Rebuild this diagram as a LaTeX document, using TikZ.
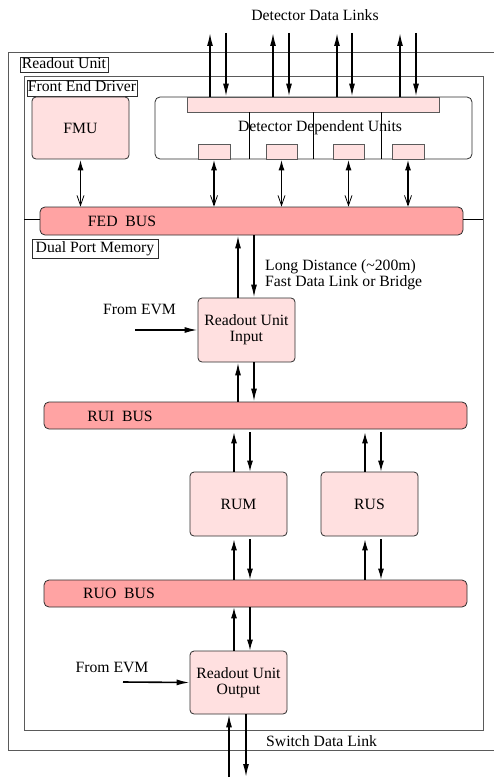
\documentclass[tikz,border=0pt]{standalone}
\usepackage{fontspec}
\setmainfont{Liberation Serif}
\usetikzlibrary{arrows.meta}
\definecolor{lpink}{RGB}{255,224,224}
\definecolor{bpink}{RGB}{255,163,163}
\definecolor{edge}{RGB}{45,45,45}
\definecolor{frame}{RGB}{90,90,90}
\begin{document}
\begin{tikzpicture}[x=1pt,y=-1pt,
  font=\fontsize{15.7}{16}\selectfont,
  unitbox/.style={draw=edge, fill=lpink, rounded corners=4pt, line width=0.8pt, inner sep=0pt, align=center},
  plainbox/.style={draw=edge, fill=white, rounded corners=5pt, line width=0.8pt, inner sep=0pt},
  smallbox/.style={draw=frame, fill=lpink, line width=0.8pt, inner sep=0pt},
  busbox/.style={draw=edge, fill=bpink, rounded corners=5pt, line width=0.8pt, inner sep=0pt},
  lbl/.style={draw=edge, fill=white, line width=0.6pt, inner sep=0pt, text height=11pt, text depth=3.5pt},
  framebox/.style={draw=frame, line width=0.9pt},
  dlink/.style={line width=1.6pt, -{Latex[length=13pt,width=6pt]}},
  link/.style={line width=1.3pt, -{Latex[length=11pt,width=6pt]}},
  dbl/.style={line width=1.6pt, {Latex[length=11pt,width=6pt]}-{Straight Barb[length=10pt,width=7pt,line width=0.8pt]}},
  txt/.style={inner sep=0pt}
]
\useasboundingbox (0,0) rectangle (493,778);

% frames
\draw[framebox] (500,52) -- (8,52) -- (8,750) -- (500,750);
\draw[framebox] (24,76) rectangle (483,730);

\node[lbl, minimum width=88pt, minimum height=15pt] (rulbl) at (64,64.5) {Readout Unit};
\node[lbl, minimum width=110pt, minimum height=16pt] (fedlbl) at (82,88) {Front End Driver};

% title
\node[txt] (title) at (315,15) {Detector Data Links};

% FED bus and separator line
\node[busbox, minimum width=423pt, minimum height=28pt] (fed) at (251.5,221) {};
\coordinate (hl) at (24,219);
\coordinate (hr) at (483,219);
\draw[line width=0.8pt] (hl) -- (hl -| fed.west);
\draw[line width=0.8pt] (hr) -- (hr -| fed.east);
\node[txt] (fedtxt) at (122,221) {FED\ \ BUS};

\node[lbl, minimum width=126pt, minimum height=19pt] (dpmlbl) at (95,248.5) {Dual Port Memory};

% FMU and detector dependent units
\node[unitbox, minimum width=97pt, minimum height=62pt] (fmu) at (80.5,128) {FMU};
\node[plainbox, minimum width=317pt, minimum height=62pt] (ddu) at (313.5,128) {};
\node[smallbox, minimum width=252pt, minimum height=15pt] (bar) at (313,104.5) {};
\foreach \x/\n in {249/1,313/2,381/3}{
  \coordinate (dv\n) at (\x,159);
  \draw[line width=0.7pt] (dv\n) -- (dv\n |- bar.south);
}
\node[txt] (ddutxt) at (320,128) {Detector Dependent Units};
\node[smallbox, minimum width=32pt, minimum height=15pt] (s1) at (214,151.5) {};
\node[smallbox, minimum width=31pt, minimum height=15pt] (s2) at (281.5,151.5) {};
\node[smallbox, minimum width=31pt, minimum height=15pt] (s3) at (348.5,151.5) {};
\node[smallbox, minimum width=32pt, minimum height=15pt] (s4) at (408,151.5) {};

% detector data links
\foreach \u/\d/\n in {210/226/1,273/289/2,337/352/3,400/416/4}{
  \coordinate (up\n) at (\u,33);
  \coordinate (dn\n) at (\d,33);
  \draw[dlink] (bar.north -| up\n) -- (up\n);
  \draw[dlink] (dn\n) -- (dn\n |- bar.north);
}

% links to FED bus
\draw[dbl] (fmu.south) -- (fmu.south |- fed.north);
\foreach \s in {s1,s2,s3,s4}{
  \draw[dbl] (\s.south) -- (\s.south |- fed.north);
}

% Readout Unit Input
\node[unitbox, minimum width=97pt, minimum height=64pt] (rui) at (246.5,330) {Readout Unit\\Input};
\draw[dlink] ([xshift=-8.5pt]rui.north) -- ([xshift=-8.5pt]rui.north |- fed.south);
\draw[dlink] ([xshift=7.5pt]rui.north |- fed.south) -- ([xshift=7.5pt]rui.north);
\node[txt, anchor=west, align=left] (ldtxt) at (265,275) {Long Distance (\textasciitilde200m)\\Fast Data Link or Bridge};

\node[txt] (evm1) at (139.5,309) {From EVM};
\coordinate (evm1s) at (135,330);
\draw[dlink] (evm1s) -- (rui.west);

% RUI bus
\node[busbox, minimum width=423pt, minimum height=27pt] (ruibus) at (255.5,415.5) {};
\node[txt] (ruitxt) at (120,416) {RUI\ \ BUS};
\draw[dlink] ([xshift=-8.5pt]rui.south |- ruibus.north) -- ([xshift=-8.5pt]rui.south);
\draw[dlink] ([xshift=7.5pt]rui.south) -- ([xshift=7.5pt]rui.south |- ruibus.north);

% RUM, RUS
\node[unitbox, minimum width=97pt, minimum height=64pt] (rum) at (238.5,504) {RUM};
\node[unitbox, minimum width=97pt, minimum height=64pt] (rus) at (369.5,504) {RUS};

% RUO bus
\node[busbox, minimum width=423pt, minimum height=27pt] (ruobus) at (255.5,593.5) {};
\node[txt] (ruotxt) at (119,593) {RUO\ \ BUS};

\foreach \b in {rum,rus}{
  \draw[link, shorten >=3pt] ([xshift=-4.5pt]\b.north) -- ([xshift=-4.5pt]\b.north |- ruibus.south);
  \draw[link, shorten <=3pt] ([xshift=11.5pt]\b.north |- ruibus.south) -- ([xshift=11.5pt]\b.north);
  \draw[link, shorten >=3pt] ([xshift=-4.5pt]\b.south |- ruobus.north) -- ([xshift=-4.5pt]\b.south);
  \draw[link, shorten <=3pt] ([xshift=11.5pt]\b.south) -- ([xshift=11.5pt]\b.south |- ruobus.north);
}

% Readout Unit Output
\node[unitbox, minimum width=97pt, minimum height=63pt] (rou) at (238.5,682.5) {Readout Unit\\Output};
\draw[link] ([xshift=-4.5pt]rou.north) -- ([xshift=-4.5pt]rou.north |- ruobus.south);
\draw[link] ([xshift=11.5pt]rou.north |- ruobus.south) -- ([xshift=11.5pt]rou.north);

\node[txt] (evm2) at (112,667) {From EVM};
\coordinate (evm2s) at (123,682);
\draw[dlink] (evm2s) -- (rou.west);

% switch data link
\coordinate (sdu) at (229,777);
\coordinate (sdd) at (246,777);
\draw[dlink] (sdu) -- (sdu |- rou.south);
\draw[dlink] (sdd |- rou.south) -- (sdd);
\node[txt, anchor=west] (sdltxt) at (266,741) {Switch Data Link};
\end{tikzpicture}
\end{document}
